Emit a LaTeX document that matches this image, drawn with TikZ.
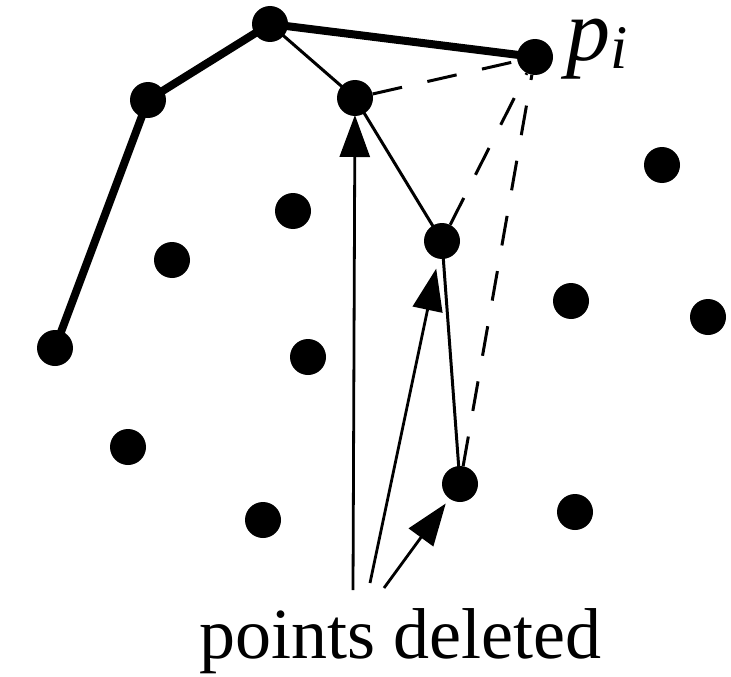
\documentclass[tikz,border=0pt]{standalone}
\usepackage{fontspec}
\setmainfont{Liberation Serif}
\usetikzlibrary{arrows.meta}
\begin{document}
\begin{tikzpicture}[x=1pt,y=-1pt,
  pt/.style={circle,fill=black,inner sep=0pt,minimum size=36pt},
  hull/.style={line width=8pt,line join=round},
  thin/.style={line width=3pt},
  dsh/.style={line width=3pt,dash pattern=on 30pt off 26pt},
  ptr/.style={line width=2.8pt,-{Triangle[length=42pt,width=30pt]}}]
\useasboundingbox (0,0) rectangle (731,677);
\node[pt] (A) at (55,348) {};
\node[pt] (B) at (148,100) {};
\node[pt] (C) at (270,24) {};
\node[pt] (D) at (535,57) {};
\node[pt] (E) at (355,98) {};
\node[pt] (F) at (442,241) {};
\node[pt] (G) at (460,484) {};
\node[pt] (o1) at (172,260) {};
\node[pt] (o2) at (293,211) {};
\node[pt] (o3) at (308,357) {};
\node[pt] (o4) at (128,447) {};
\node[pt] (o5) at (263,520) {};
\node[pt] (o6) at (662,165) {};
\node[pt] (o7) at (571,301) {};
\node[pt] (o8) at (708,317) {};
\node[pt] (o9) at (575,512) {};
\node[anchor=base west,inner sep=0pt,text height=38pt,text depth=18pt] (pi) at (566,60) {\fontsize{88}{90}\selectfont\itshape p\raisebox{-9pt}{\fontsize{62}{64}\selectfont i}};
\draw[hull] (A.center) -- (B.center) -- (C.center) -- (D.center);
\draw[thin] (C.center) -- (E.center) -- (F.center) -- (G.center);
\draw[dsh] (E) -- (D);
\draw[dsh] (F) -- (D);
\draw[dsh] (G) -- (D);
\node[anchor=base,inner sep=0pt] (lbl) at (400,658) {\fontsize{72}{80}\selectfont points deleted};
\coordinate (t1) at (353,590);
\coordinate (t2) at (370,583);
\coordinate (t3) at (384,588);
\draw[ptr,shorten >=17pt] (t1) -- (E.center);
\draw[ptr,shorten >=10pt] (t2) -- (F);
\draw[ptr,shorten >=6pt] (t3) -- (G);
\end{tikzpicture}
\end{document}
